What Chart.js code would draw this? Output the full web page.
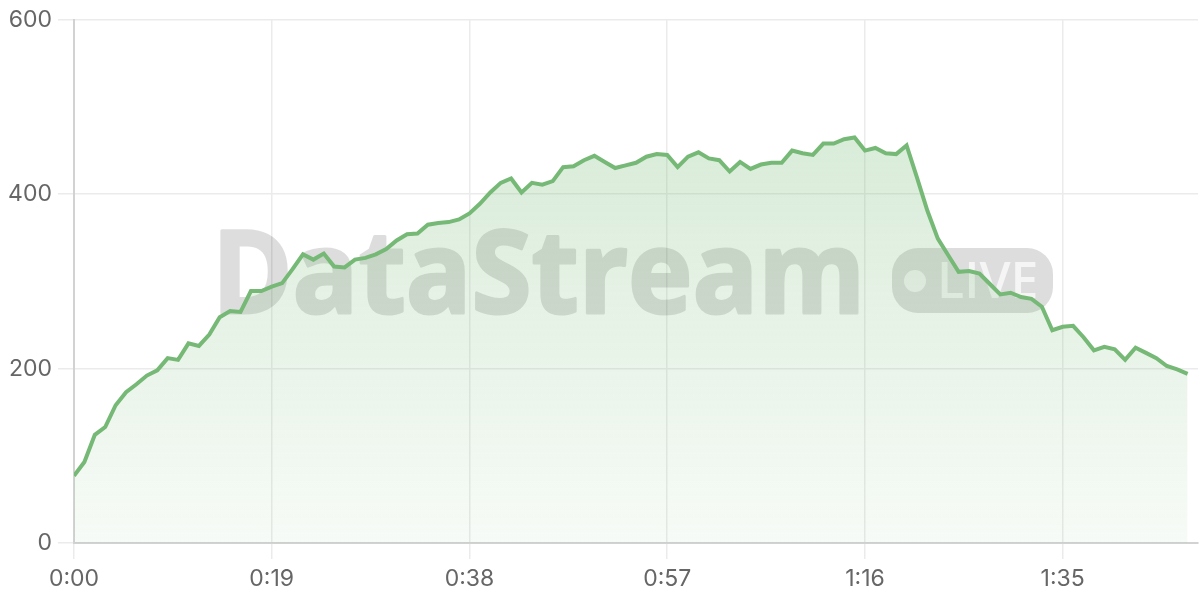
<!DOCTYPE html>
<html>
<head>
<meta charset="utf-8">
<script src="https://cdn.jsdelivr.net/npm/chart.js@4.4.1/dist/chart.umd.min.js"></script>
<style>
  html, body { margin: 0; padding: 0; background: #fff; }
  #wrap { width: 1200px; height: 600px; }
</style>
</head>
<body>
<div id="wrap"><canvas id="streamChart"></canvas></div>
<script>
// one reading per second
const values = [77, 93, 124, 133, 158, 173, 182, 192, 198, 212, 210, 229, 226, 239, 259, 266, 265, 289,
    289, 294, 298, 314, 331, 325, 332, 317, 316, 325, 327, 331, 337, 347, 354, 355, 365, 367, 368,
    371, 378, 389, 402, 413, 418, 402, 413, 411, 415, 431, 432, 439, 444, 437, 430, 433, 436, 443,
    446, 445, 431, 443, 448, 441, 439, 426, 437, 429, 434, 436, 436, 450, 447, 445, 458, 458, 463,
    465, 450, 453, 447, 446, 456, 419, 381, 349, 330, 311, 312, 309, 297, 285, 287, 282, 280, 271,
    244, 248, 249, 236, 221, 225, 222, 210, 224, 218, 212, 203, 199, 194];
const seconds = values.map((v, i) => i);
const xTicks = [0, 19, 38, 57, 76, 95];
const yTicks = [0, 200, 400, 600];

function fmtTime(s) {
    const m = Math.floor(s / 60);
    const r = s % 60;
    return m + ':' + (r < 10 ? '0' : '') + r;
}

// watermark, drawn under the line
const watermark = {
    id: 'watermark',
    beforeDatasetsDraw(chart) {
        // draw opaque on a scratch canvas, then lay it down with alpha
        const off = document.createElement('canvas');
        off.width = 1200;
        off.height = 600;
        const o = off.getContext('2d');
        o.fillStyle = '#000';
        o.strokeStyle = '#000';
        o.lineJoin = 'round';
        o.lineWidth = 3;
        o.font = 'bold 115px "Open Sans"';
        const w = o.measureText('DataStream').width + 3;
        const sx = 656 / w;
        o.save();
        o.translate(212, 313);
        o.scale(sx, 1);
        o.fillText('DataStream', 0, 0);
        o.strokeText('DataStream', 0, 0);
        o.restore();

        o.beginPath();
        o.roundRect(892, 248, 161, 65, 26);
        o.fill();
        o.globalCompositeOperation = 'destination-out';
        o.fillStyle = 'rgba(0,0,0,0.7)';
        o.beginPath();
        o.arc(915, 281, 11, 0, Math.PI * 2);
        o.fill();
        o.font = '600 50px "Open Sans"';
        o.fillText('LIVE', 937, 298);

        const ctx = chart.ctx;
        ctx.save();
        ctx.globalAlpha = 0.135;
        ctx.drawImage(off, 0, 0);
        ctx.restore();
    }
};

const ctx = document.getElementById('streamChart').getContext('2d');

function fillGradient(context) {
    const area = context.chart.chartArea;
    if (!area) return 'rgba(118,185,118,0.2)';
    const g = context.chart.ctx.createLinearGradient(0, area.top, 0, area.bottom);
    g.addColorStop(0, 'rgba(118,185,118,0.34)');
    g.addColorStop(1, 'rgba(118,185,118,0.06)');
    return g;
}

new Chart(ctx, {
    type: 'line',
    data: {
        datasets: [{
            data: seconds.map((s, i) => ({ x: s, y: values[i] })),
            borderColor: '#76b976',
            borderWidth: 4,
            backgroundColor: fillGradient,
            fill: 'origin',
            pointRadius: 0,
            tension: 0
        }]
    },
    options: {
        responsive: true,
        maintainAspectRatio: false,
        animation: false,
        layout: { padding: { top: 19, right: 2, left: 0, bottom: 0 } },
        plugins: {
            legend: { display: false },
            tooltip: { enabled: false }
        },
        scales: {
            x: {
                type: 'linear',
                min: 0,
                max: 108,
                afterBuildTicks(scale) {
                    scale.ticks = xTicks.map(v => ({ value: v }));
                },
                afterFit(scale) { scale.height = 57; },
                grid: { color: '#ebebeb', lineWidth: 1.5, tickLength: 16 },
                border: { color: '#d2d2d2', width: 2 },
                ticks: {
                    color: '#666',
                    padding: 6,
                    maxRotation: 0,
                    font: { family: 'Inter', size: 23 },
                    callback: v => fmtTime(v)
                }
            },
            y: {
                min: 0,
                max: 600,
                afterBuildTicks(scale) {
                    scale.ticks = yTicks.map(v => ({ value: v }));
                },
                afterFit(scale) { scale.width = 74; },
                grid: { color: '#ebebeb', lineWidth: 1.5, tickLength: 16 },
                border: { color: '#d2d2d2', width: 2 },
                ticks: {
                    color: '#666',
                    padding: 6,
                    font: { family: 'Inter', size: 23 }
                }
            }
        }
    },
    plugins: [watermark]
});
</script>
</body>
</html>
